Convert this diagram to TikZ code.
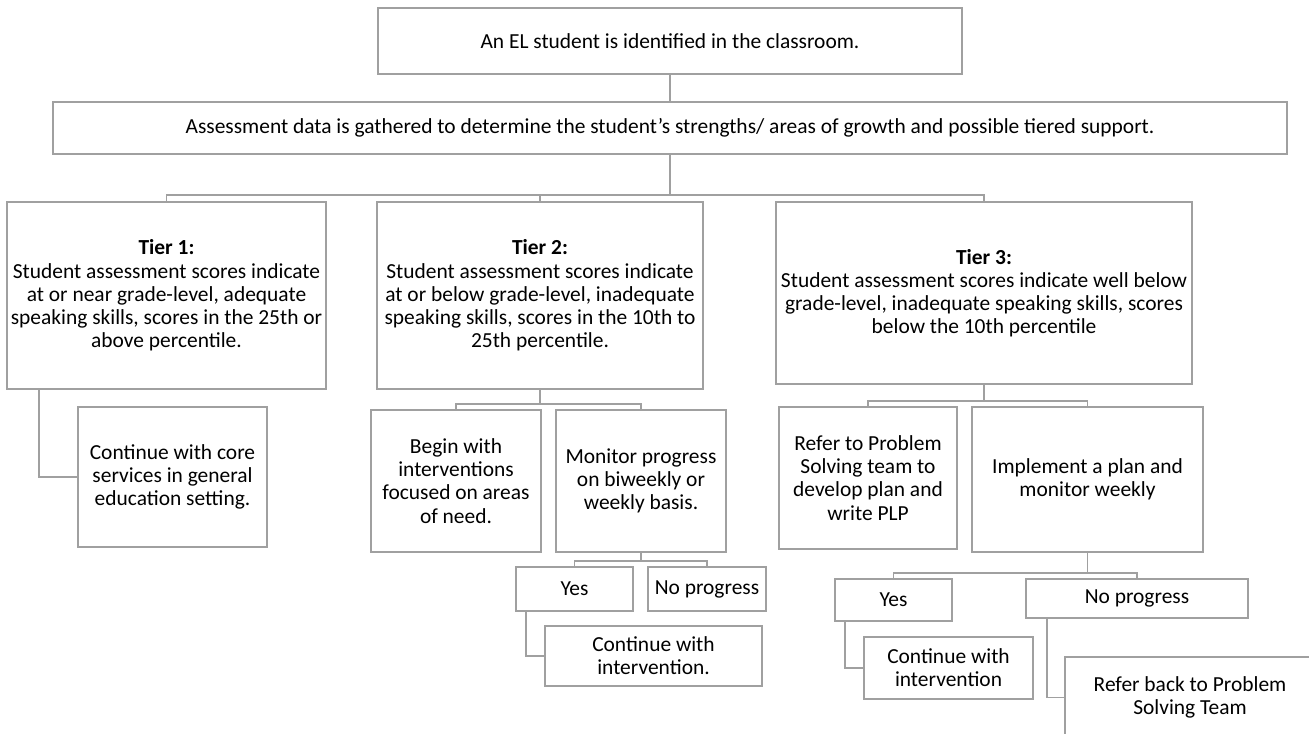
\documentclass[tikz,border=0pt]{standalone}
\usepackage{fontspec}
\setmainfont{Carlito}
\definecolor{linegray}{HTML}{A0A0A0}
\usepackage{tikz}
\usetikzlibrary{calc, positioning}

\begin{document}
\begin{tikzpicture}[
  x=0.2mm, y=-0.2mm,
  box/.style={draw=linegray, line width=1.1pt, fill=white, align=center,
              font=\fontsize{12.2}{13.2}\selectfont, inner sep=1pt},
  link/.style={draw=linegray, line width=1.1pt},
]
\useasboundingbox (0,0) rectangle (1309,734);
\clip (0,0) rectangle (1309,734);

% top of the chart
\node[box, minimum width=116.8mm, minimum height=13.2mm] (ident) at (670,41)
  {An EL student is identified in the classroom.};
\node[box, minimum width=246.8mm, minimum height=10.4mm] (assess) at (670,128)
  {Assessment data is gathered to determine the student’s strengths/ areas of growth and possible tiered support.};

% tiers
\node[box, minimum width=63.8mm, minimum height=37.4mm] (tierone) at (166.5,295.5)
  {\textbf{Tier 1:}\\Student assessment scores indicate\\at or near grade-level, adequate\\speaking skills, scores in the 25th or\\above percentile.};
\node[box, minimum width=65.2mm, minimum height=37.4mm] (tiertwo) at (540,295.5)
  {\textbf{Tier 2:}\\Student assessment scores indicate\\at or below grade-level, inadequate\\speaking skills, scores in the 10th to\\25th percentile.};
\node[box, minimum width=83.2mm, minimum height=36.4mm] (tierthree) at (984,293)
  {\textbf{Tier 3:}\\Student assessment scores indicate well below\\grade-level, inadequate speaking skills, scores\\below the 10th percentile};

% tier 1 branch
\node[box, minimum width=37.8mm, minimum height=28mm] (core) at (172.5,477)
  {Continue with core\\services in general\\education setting.};

% tier 2 branch
\node[box, minimum width=34mm, minimum height=28.4mm] (begin) at (456,481)
  {Begin with\\interventions\\focused on areas\\of need.};
\node[box, minimum width=34mm, minimum height=28.4mm] (monitor) at (641,481)
  {Monitor progress\\on biweekly or\\weekly basis.};
\node[box, minimum width=23.4mm, minimum height=8.8mm] (yestwo) at (574.5,589) {Yes};
\node[box, minimum width=23.6mm, minimum height=8.8mm] (notwo) at (707,589) {No progress};
\node[box, minimum width=43.4mm, minimum height=12mm] (conttwo) at (653.5,656)
  {Continue with\\intervention.};

% tier 3 branch
\node[box, minimum width=35.6mm, minimum height=28.4mm] (refer) at (868,478)
  {Refer to Problem\\Solving team to\\develop plan and\\write PLP};
\node[box, minimum width=46.2mm, minimum height=29mm] (implement) at (1087.5,479.5)
  {Implement a plan and\\monitor weekly};
\node[box, minimum width=23.4mm, minimum height=8.4mm] (yesthree) at (893.5,600) {Yes};
\node[box, minimum width=44.4mm, minimum height=7.8mm] (nothree) at (1137,598.5) {No progress};
\node[box, minimum width=33.8mm, minimum height=12.4mm] (contthree) at (948.5,668)
  {Continue with\\intervention};
\node[box, minimum width=50mm, minimum height=16.2mm] (referback) at (1190,697.5)
  {Refer back to Problem\\Solving Team};

% connectors
\draw[link] (ident) -- (assess);
\draw[link] (assess.south) -- ++(0,40) -| (tierone.north);
\draw[link] (assess.south) -- ++(0,40) -| (tiertwo.north);
\draw[link] (assess.south) -- ++(0,40) -| (tierthree.north);

\draw[link] ($(tierone.south west)+(33,0)$) |- (core.west);

\draw[link] (tiertwo.south) -- ++(0,14) -| (begin.north);
\draw[link] (tiertwo.south) -- ++(0,14) -| (monitor.north);
\draw[link] (monitor.south) -- ++(0,8) -| (yestwo.north);
\draw[link] (monitor.south) -- ++(0,8) -| (notwo.north);
\draw[link] ($(yestwo.south west)+(11,0)$) |- (conttwo.west);

\draw[link] (tierthree.south) -- ++(0,16) -| (refer.north);
\draw[link] (tierthree.south) -- ++(0,16) -| (implement.north);
\draw[link] (implement.south) -- ++(0,20) -| (yesthree.north);
\draw[link] (implement.south) -- ++(0,20) -| (nothree.north);
\draw[link] ($(yesthree.south west)+(11,0)$) |- (contthree.west);
\draw[link] ($(nothree.south west)+(22,0)$) |- (referback.west);
\end{tikzpicture}
\end{document}
